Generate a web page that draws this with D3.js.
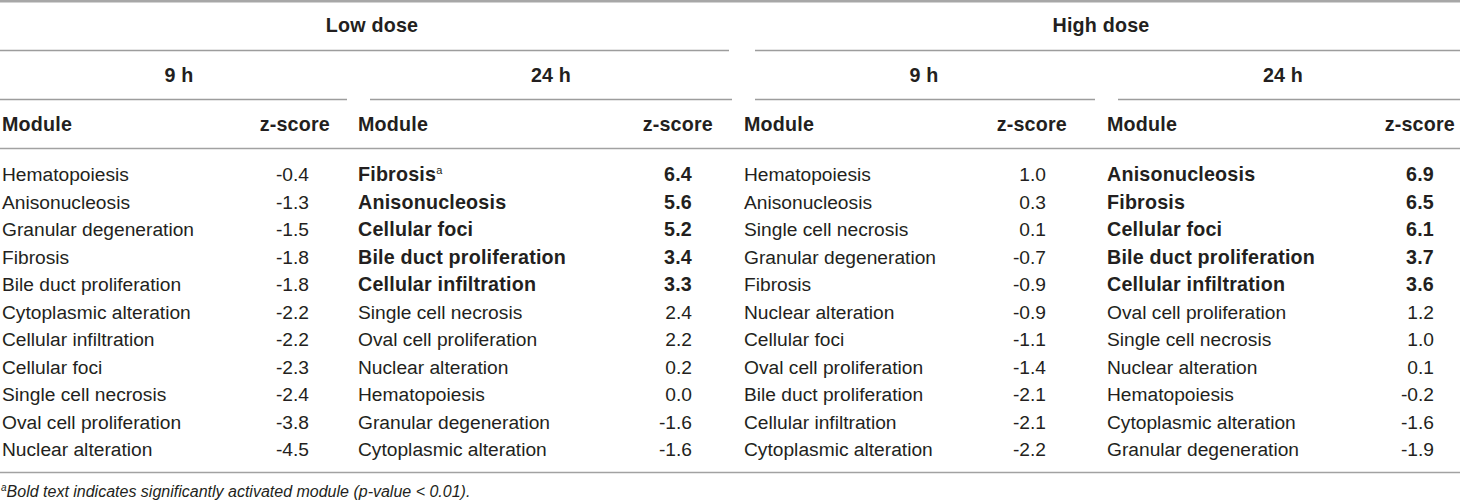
<!DOCTYPE html>
<html>
<head>
<meta charset="utf-8">
<script src="https://cdn.jsdelivr.net/npm/d3@7/dist/d3.min.js"></script>
<style>
  html, body { margin: 0; padding: 0; background: #fff; }
  svg text { font-family: "Liberation Sans", Arial, Helvetica, sans-serif; fill: #231f20; }
  svg text.b { font-weight: bold; font-size: 19.7px; letter-spacing: 0.2px; }
</style>
</head>
<body>
<div id="chart"></div>
<script>
const doses = ["Low dose", "High dose"];
const times = ["9 h", "24 h", "9 h", "24 h"];
const colHeaders = ["Module", "z-score"];

const lowModules9 = ["Hematopoiesis", "Anisonucleosis", "Granular degeneration", "Fibrosis", "Bile duct proliferation", "Cytoplasmic alteration", "Cellular infiltration", "Cellular foci", "Single cell necrosis", "Oval cell proliferation", "Nuclear alteration"];
const lowScores9 = ["-0.4", "-1.3", "-1.5", "-1.8", "-1.8", "-2.2", "-2.2", "-2.3", "-2.4", "-3.8", "-4.5"];

const lowModules24 = ["Fibrosis", "Anisonucleosis", "Cellular foci", "Bile duct proliferation", "Cellular infiltration", "Single cell necrosis", "Oval cell proliferation", "Nuclear alteration", "Hematopoiesis", "Granular degeneration", "Cytoplasmic alteration"];
const lowScores24 = ["6.4", "5.6", "5.2", "3.4", "3.3", "2.4", "2.2", "0.2", "0.0", "-1.6", "-1.6"];

const highModules9 = ["Hematopoiesis", "Anisonucleosis", "Single cell necrosis", "Granular degeneration", "Fibrosis", "Nuclear alteration", "Cellular foci", "Oval cell proliferation", "Bile duct proliferation", "Cellular infiltration", "Cytoplasmic alteration"];
const highScores9 = ["1.0", "0.3", "0.1", "-0.7", "-0.9", "-0.9", "-1.1", "-1.4", "-2.1", "-2.1", "-2.2"];

const highModules24 = ["Anisonucleosis", "Fibrosis", "Cellular foci", "Bile duct proliferation", "Cellular infiltration", "Oval cell proliferation", "Single cell necrosis", "Nuclear alteration", "Hematopoiesis", "Cytoplasmic alteration", "Granular degeneration"];
const highScores24 = ["6.9", "6.5", "6.1", "3.7", "3.6", "1.2", "1.0", "0.1", "-0.2", "-1.6", "-1.9"];

// significant (bold) row counts per block
const boldCounts = [0, 5, 0, 5];
const footnote = "Bold text indicates significantly activated module (p-value < 0.01).";

const width = 1460;
const height = 504;

const blocks = [
  { modules: lowModules9, scores: lowScores9 },
  { modules: lowModules24, scores: lowScores24 },
  { modules: highModules9, scores: highScores9 },
  { modules: highModules24, scores: highScores24 },
].map((b, i) => ({ ...b, bold: boldCounts[i] }));

// layout
const blockLeft = [2, 358, 744, 1107];
const blockScoreRight = [330, 713, 1067, 1455];
const blockLine = [[0, 347], [370, 732], [755, 1095], [1118, 1460]];
const timeCenter = [179, 551, 924, 1283];
const doseLine = [[0, 729], [755, 1460]];
const doseCenter = [372, 1101];

const y = d3.scalePoint()
  .domain(d3.range(lowModules9.length))
  .range([181, 456]);

const fs = 19.2;

const svg = d3.select("#chart")
  .append("svg")
  .attr("width", width)
  .attr("height", height);

const line = (x1, x2, yy, w, c) => svg.append("line")
  .attr("x1", x1).attr("x2", x2).attr("y1", yy).attr("y2", yy)
  .attr("stroke", c).attr("stroke-width", w);

// rules
line(0, width, 1.2, 2.4, "#a7a7a7");
doseLine.forEach(([a, b]) => line(a, b, 50.5, 1.4, "#9d9d9d"));
blockLine.forEach(([a, b]) => line(a, b, 99.5, 1.4, "#9d9d9d"));
line(0, width, 148.5, 1.6, "#a2a2a2");
line(0, width, 472.5, 1.6, "#a2a2a2");

// dose headers
svg.selectAll("text.dose")
  .data(doses)
  .enter()
  .append("text")
  .attr("class", "b")
  .attr("x", (d, i) => doseCenter[i])
  .attr("y", 32)
  .attr("text-anchor", "middle")
  .text((d) => d);

// time headers
svg.selectAll("text.time")
  .data(times)
  .enter()
  .append("text")
  .attr("class", "b")
  .attr("x", (d, i) => timeCenter[i])
  .attr("y", 82)
  .attr("text-anchor", "middle")
  .text((d) => d);

// column headers and bodies
blocks.forEach((b, bi) => {
  const g = svg.append("g");
  g.append("text")
    .attr("class", "b")
    .attr("x", blockLeft[bi]).attr("y", 131)
    .text(colHeaders[0]);
  g.append("text")
    .attr("class", "b")
    .attr("x", blockScoreRight[bi]).attr("y", 131)
    .attr("text-anchor", "end")
    .text(colHeaders[1]);

  const rows = g.selectAll("g.row")
    .data(b.modules.map((m, i) => ({ m, s: b.scores[i], i })))
    .enter()
    .append("g");

  const mod = rows.append("text")
    .attr("class", (d) => (d.i < b.bold ? "b" : null))
    .attr("x", blockLeft[bi])
    .attr("y", (d) => y(d.i))
    .attr("font-size", fs)
    .text((d) => d.m);

  // footnote marker on first significant module of low dose 24 h
  if (bi === 1) {
    mod.filter((d) => d.i === 0)
      .append("tspan")
      .attr("font-size", 11)
      .attr("font-weight", "normal")
      .attr("dy", -7)
      .text("a");
  }

  rows.append("text")
    .attr("class", (d) => (d.i < b.bold ? "b" : null))
    .attr("x", blockScoreRight[bi] - 21)
    .attr("y", (d) => y(d.i))
    .attr("text-anchor", "end")
    .attr("font-size", fs)
    .text((d) => d.s);
});

// footnote
const fn = svg.append("text")
  .attr("x", 1)
  .attr("y", 497)
  .attr("font-size", 16)
  .attr("font-style", "italic");
fn.append("tspan").attr("font-size", 10).attr("dy", -6).text("a");
fn.append("tspan").attr("dy", 6).text(footnote);
</script>
</body>
</html>
